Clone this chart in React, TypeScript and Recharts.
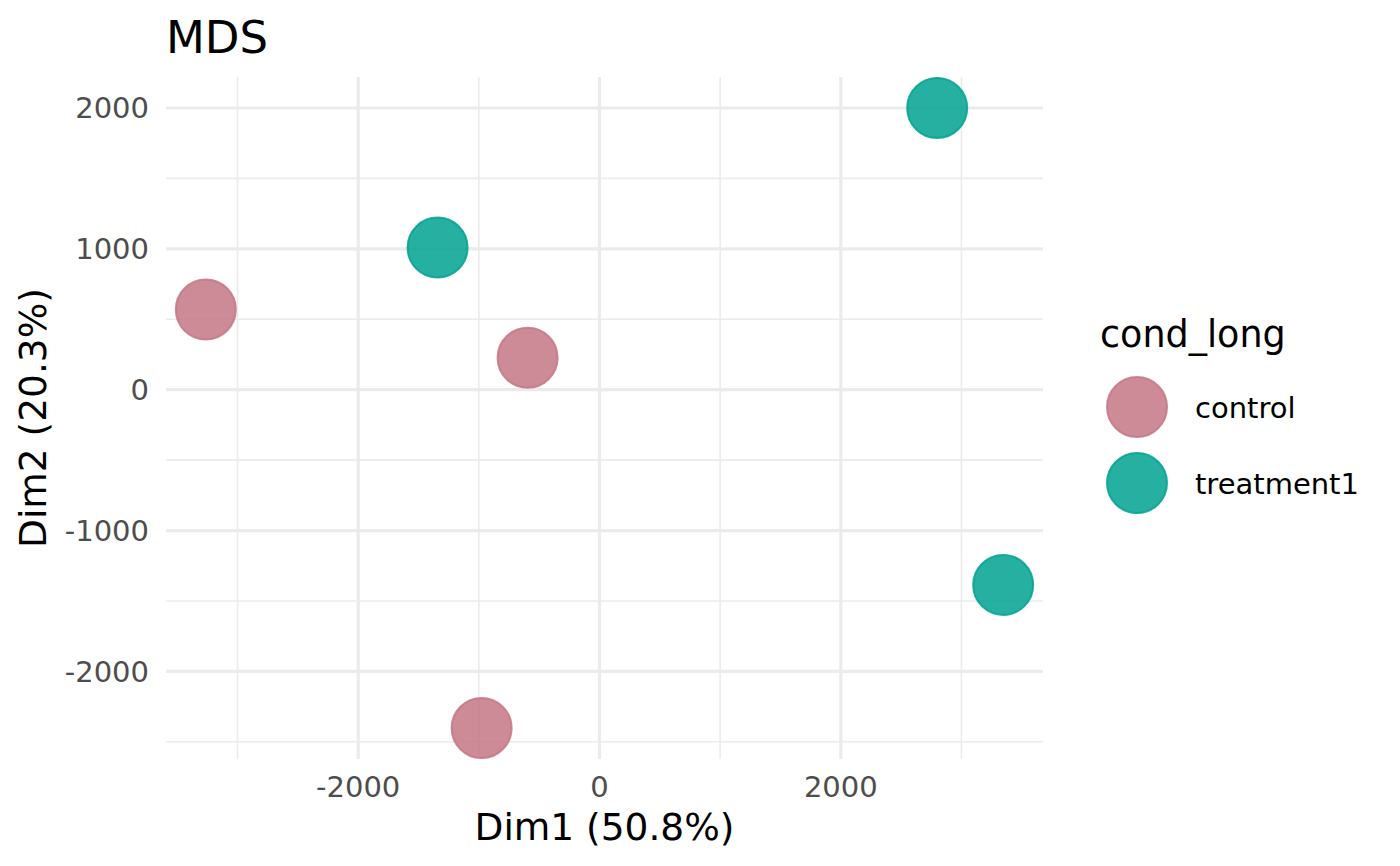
import { CartesianGrid, Legend, Scatter, ScatterChart, XAxis, YAxis } from 'recharts';

const controlDim1 = [-3263, -596, -977];
const controlDim2 = [569, 227, -2402];
const treatmentDim1 = [-1342, 2799, 3346];
const treatmentDim2 = [1009, 2000, -1386];

const xTicks = [-2000, 0, 2000];
const yTicks = [-2000, -1000, 0, 1000, 2000];
const xMinor = [-3000, -1000, 1000, 3000];
const yMinor = [-2500, -1500, -500, 500, 1500];

const FONT = '"DejaVu Sans", "Liberation Sans", sans-serif';

const control = controlDim1.map((x, i) => ({ x, y: controlDim2[i] }));
const treatment = treatmentDim1.map((x, i) => ({ x, y: treatmentDim2[i] }));

const CONTROL_COLOR = '#c47785';
const TREAT_COLOR = '#00a292';

// ggplot-like point: alpha fill + same colour stroke
const dot = (color: string) => (props: any) => (
  <circle
    cx={props.cx}
    cy={props.cy}
    r={30}
    fill={color}
    fillOpacity={0.85}
    stroke={color}
    strokeOpacity={0.85}
    strokeWidth={2}
  />
);

function LegendBox(props: any) {
  const items = props.payload ?? [];
  return (
    <svg width={357} height={230} style={{ fontFamily: FONT, display: 'block' }}>
      <text x={57} y={47} fontSize={36.5} fill='#000'>
        cond_long
      </text>
      {items.map((it: any, i: number) => (
        <g key={it.value}>
          <circle
            cx={94}
            cy={107 + i * 76}
            r={30}
            fill={it.color}
            fillOpacity={0.85}
            stroke={it.color}
            strokeOpacity={0.85}
            strokeWidth={2}
          />
          <text x={152} y={118 + i * 76} fontSize={29} fill='#000'>
            {it.value}
          </text>
        </g>
      ))}
    </svg>
  );
}

export default function App() {
  return (
    <div style={{ position: 'absolute', left: 0, top: 0, width: 1400, height: 866, background: '#fff' }}>
      <div
        style={{
          position: 'absolute',
          left: 166,
          top: 15,
          fontFamily: FONT,
          fontSize: 45,
          lineHeight: 1,
          color: '#000',
          zIndex: 2,
        }}
      >
        MDS
      </div>
      <ScatterChart
        width={1400}
        height={866}
        margin={{ top: 77, right: 0, bottom: 0, left: 0 }}
        style={{ fontFamily: FONT }}
      >
        <CartesianGrid
          horizontalValues={yMinor}
          verticalValues={xMinor}
          stroke='#ebebeb'
          strokeWidth={1.6}
        />
        <CartesianGrid
          horizontalValues={yTicks}
          verticalValues={xTicks}
          stroke='#ebebeb'
          strokeWidth={3.2}
        />
        <XAxis
          type='number'
          dataKey='x'
          domain={[-3593, 3676]}
          ticks={xTicks}
          height={107}
          axisLine={false}
          tickLine={false}
          tickMargin={11}
          tick={{ fontSize: 29, fill: '#4d4d4d' }}
          allowDataOverflow
          label={{ value: 'Dim1 (50.8%)', position: 'insideBottom', offset: 26, fontSize: 37.5, fill: '#000' }}
        />
        <YAxis
          type='number'
          dataKey='y'
          domain={[-2622, 2220]}
          ticks={yTicks}
          width={166}
          axisLine={false}
          tickLine={false}
          tickMargin={11}
          tick={{ fontSize: 29, fill: '#4d4d4d' }}
          allowDataOverflow
          label={({ viewBox }: any) => (
            <text
              x={viewBox.x + 46}
              y={viewBox.y + viewBox.height / 2}
              transform={`rotate(-90, ${viewBox.x + 46}, ${viewBox.y + viewBox.height / 2})`}
              textAnchor='middle'
              fontSize={37.5}
              fill='#000'
            >
              Dim2 (20.3%)
            </text>
          )}
        />
        <Legend
          layout='vertical'
          align='right'
          verticalAlign='middle'
          content={LegendBox}
          wrapperStyle={{ position: 'absolute', left: 1043, top: 300, width: 357, height: 230 }}
        />
        <Scatter
          name='control'
          data={control}
          fill={CONTROL_COLOR}
          shape={dot(CONTROL_COLOR)}
          isAnimationActive={false}
        />
        <Scatter
          name='treatment1'
          data={treatment}
          fill={TREAT_COLOR}
          shape={dot(TREAT_COLOR)}
          isAnimationActive={false}
        />
      </ScatterChart>
    </div>
  );
}
